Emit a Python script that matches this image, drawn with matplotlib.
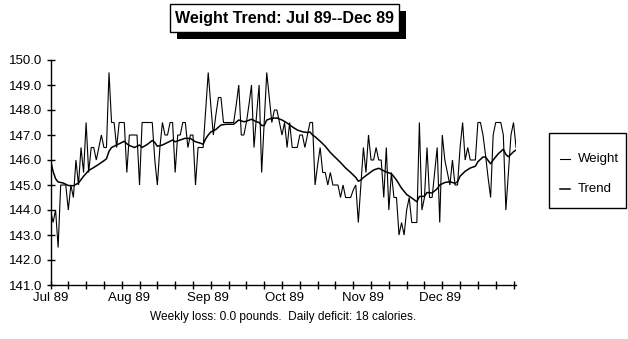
import matplotlib
matplotlib.use("Agg")
import matplotlib.pyplot as plt
from matplotlib.patches import Rectangle
from matplotlib.lines import Line2D
import numpy as np

plt.rcParams["font.family"] = ["Liberation Sans", "DejaVu Sans"]

# Daily weight log, one entry per day starting 1 Jul 1989 (day 0)
weight = [
    144.0, 143.5, 144.0, 142.5, 145.0, 145.0, 145.0, 144.0, 145.0, 144.5,
    146.0, 145.0, 146.5, 145.5, 147.5, 145.5, 146.5, 146.5, 146.0, 146.5,
    147.0, 146.5, 146.5, 149.5, 147.5, 147.5, 146.5, 147.5, 147.5, 147.5,
    145.5, 147.0, 147.0, 147.0, 147.0, 145.0, 147.5, 147.5, 147.5, 147.5,
    147.5, 146.0, 145.0, 146.5, 147.5, 147.0, 147.0, 147.5, 147.5, 145.5,
    147.0, 147.0, 147.5, 147.5, 146.5, 147.0, 147.0, 145.0, 146.5, 146.5,
    146.5, 148.0, 149.5, 148.2, 147.0, 147.8, 148.5, 148.5, 147.5, 147.5,
    147.5, 147.5, 147.5, 148.2, 149.0, 147.0, 147.0, 147.5, 148.2, 149.0,
    146.5, 147.8, 149.0, 145.5, 147.5, 149.5, 148.5, 147.5, 148.0, 148.0,
    147.5, 147.0, 147.5, 146.5, 147.5, 146.5, 146.5, 146.5, 147.0, 147.0,
    146.5, 147.0, 147.5, 147.5, 145.0, 145.8, 146.5, 145.5, 145.5, 145.0,
    145.5, 145.0, 145.0, 145.0, 144.5, 145.0, 144.5, 144.5, 144.5, 144.8,
    145.0, 143.5, 145.0, 146.5, 145.5, 147.0, 146.0, 146.0, 146.5, 146.0,
    146.0, 144.5, 146.5, 144.0, 145.5, 144.5, 144.5, 143.0, 143.5, 143.0,
    144.0, 144.5, 143.5, 143.5, 143.5, 147.5, 144.0, 144.5, 146.5, 144.5,
    144.5, 145.5, 146.5, 143.5, 147.0, 146.0, 145.5, 145.0, 146.0, 145.0,
    145.0, 146.5, 147.5, 146.0, 146.5, 146.0, 146.0, 146.0, 147.5, 147.5,
    147.0, 146.2, 145.3, 144.5, 147.0, 147.5, 147.5, 147.5, 147.0, 144.0,
    145.5, 147.0, 147.5, 146.5,
]
weight_days = list(range(len(weight)))

# Smoothed trend, sampled along the season (day number, pounds)
trend_days = [
    0, 1, 2, 3, 5, 7, 9, 11, 13, 15, 17, 19, 21, 22, 23, 24, 26, 28, 29, 30,
    31, 33, 35, 36, 38, 40, 41, 42, 44, 46, 48, 49, 51, 53, 55, 57, 59, 60,
    61, 62, 63, 65, 67, 69, 72, 74, 76, 77, 79, 81, 82, 83, 84, 85, 87, 89,
    91, 93, 95, 97, 99, 101, 102, 103, 104, 106, 108, 110, 112, 114, 116,
    118, 120, 121, 122, 123, 125, 127, 129, 130, 132, 134, 135, 136, 138,
    140, 142, 144, 145, 147, 148, 150, 152, 153, 155, 157, 159, 160, 161,
    163, 165, 167, 168, 170, 171, 173, 174, 176, 178, 179, 180, 182, 183,
]
trend = [
    146.0, 145.55, 145.25, 145.12, 145.08, 144.98, 144.97, 145.08, 145.35,
    145.58, 145.7, 145.83, 145.97, 146.05, 146.35, 146.5, 146.6, 146.7,
    146.75, 146.65, 146.58, 146.5, 146.6, 146.5, 146.62, 146.78, 146.7,
    146.55, 146.6, 146.7, 146.8, 146.73, 146.8, 146.87, 146.86, 146.73,
    146.67, 146.63, 146.85, 147.0, 147.12, 147.22, 147.4, 147.43, 147.43,
    147.6, 147.53, 147.55, 147.63, 147.53, 147.5, 147.38, 147.38, 147.6,
    147.67, 147.68, 147.6, 147.48, 147.33, 147.2, 147.13, 147.1, 147.12,
    147.0, 146.93, 146.75, 146.55, 146.3, 146.1, 145.9, 145.68, 145.5,
    145.3, 145.15, 145.2, 145.3, 145.45, 145.6, 145.67, 145.62, 145.52,
    145.45, 145.33, 145.2, 144.87, 144.62, 144.48, 144.33, 144.54, 144.55,
    144.7, 144.68, 144.85, 145.0, 145.1, 145.13, 145.07, 145.13, 145.35,
    145.55, 145.68, 145.75, 145.93, 146.12, 146.12, 145.85, 146.0, 146.25,
    146.43, 146.22, 146.13, 146.33, 146.4,
]

month_days = [0, 31, 62, 92, 123, 153]
month_labels = ["Jul 89", "Aug 89", "Sep 89", "Oct 89", "Nov 89", "Dec 89"]
week_days = list(range(0, 183, 7))
y_ticks = list(range(141, 151))

title = "Weight Trend: Jul 89--Dec 89"
footer = "Weekly loss: 0.0 pounds.  Daily deficit: 18 calories."

W, H = 628, 339
fig = plt.figure(figsize=(W / 100, H / 100), dpi=100)
fig.patch.set_facecolor("white")

px_per_day = 2.544
ax = fig.add_axes([50.5 / W, 1 - 285 / H, 183 * px_per_day / W, 225 / H])
ax.set_xlim(0, 183)
ax.set_ylim(141, 150)

ax.plot(weight_days, weight, color="black", lw=0.8, solid_joinstyle="miter")
ax.plot(trend_days, trend, color="black", lw=1.1)

for side in ("top", "right"):
    ax.spines[side].set_visible(False)
for side in ("left", "bottom"):
    ax.spines[side].set_linewidth(1.0)

# weekly tick marks, month names as unmarked minor ticks
ax.xaxis.remove_overlapping_locs = False
ax.set_xticks(week_days)
ax.set_xticklabels([])
ax.set_xticks(month_days, minor=True)
ax.set_xticklabels(month_labels, minor=True, fontsize=9.5)
ax.tick_params(axis="x", which="major", direction="inout", length=6, width=1)
ax.tick_params(axis="x", which="minor", length=0, pad=5)

ax.set_yticks(y_ticks)
ax.set_yticklabels([f"{v:.1f}" for v in y_ticks], fontsize=9.5)
ax.tick_params(axis="y", direction="inout", length=6, width=1, pad=3)

# Boxed title with a drop shadow
fig.add_artist(Rectangle((177 / W, 1 - 39 / H), 229 / W, 28 / H,
                         transform=fig.transFigure, facecolor="black",
                         edgecolor="black", lw=0, zorder=5))
fig.add_artist(Rectangle((170 / W, 1 - 32 / H), 229 / W, 28 / H,
                         transform=fig.transFigure, facecolor="white",
                         edgecolor="black", lw=1, zorder=6))
fig.text(284.5 / W, 1 - 18.5 / H, title, ha="center", va="center",
         fontsize=11.5, fontweight="bold", zorder=7)

# Legend box
fig.add_artist(Rectangle((549 / W, 1 - 208 / H), 77 / W, 75 / H,
                         transform=fig.transFigure, facecolor="white",
                         edgecolor="black", lw=1, zorder=5))
for yy, lab, lw in ((159, "Weight", 0.8), (189, "Trend", 1.1)):
    fig.add_artist(Line2D([560 / W, 570 / W], [1 - yy / H, 1 - yy / H],
                          transform=fig.transFigure, color="black", lw=lw,
                          zorder=6))
    fig.text(578 / W, 1 - yy / H, lab, ha="left", va="center", fontsize=9.5,
             zorder=6)

fig.text(283 / W, 1 - 317 / H, footer, ha="center", va="center", fontsize=8.6)

fig.savefig("out.png", dpi=100, facecolor="white")
